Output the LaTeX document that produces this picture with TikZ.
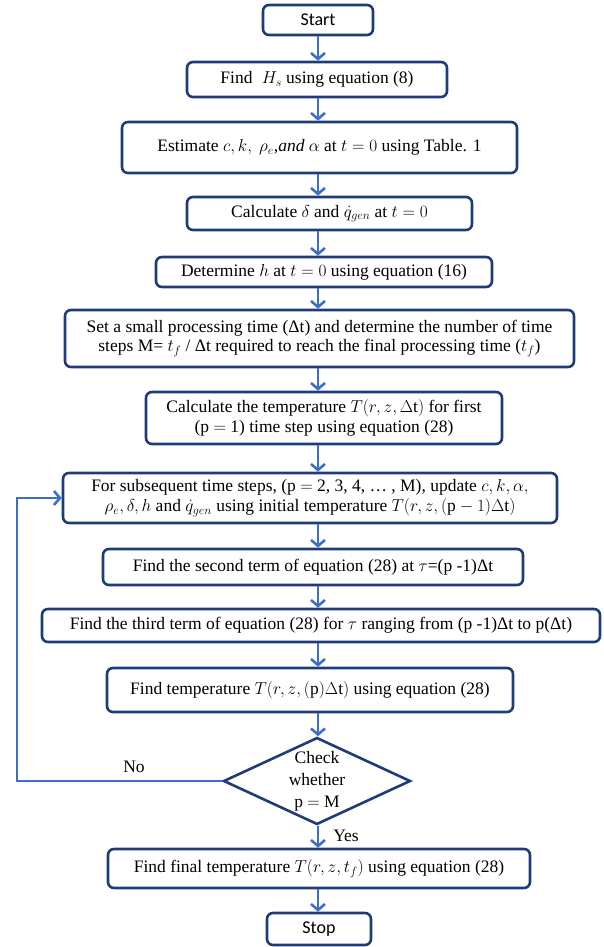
\documentclass[tikz,border=0pt]{standalone}
\usepackage{fontspec}
\setmainfont{Liberation Serif}
\newfontfamily\startfont{Carlito}
\usetikzlibrary{arrows.meta,shapes.geometric}
\definecolor{boxline}{HTML}{1F3B7A}
\definecolor{arrline}{HTML}{3E6FC8}
\newcommand\dlt{Δ}
\begin{document}
\begin{tikzpicture}[x=1pt,y=-1pt,
  box/.style={draw=boxline, line width=2.6pt, rounded corners=6pt, inner sep=0pt, align=center,
     font=\fontsize{17.5}{19.5}\selectfont, fill=white},
  term/.style={box, font=\startfont\fontsize{18}{20}\selectfont},
  flow/.style={draw=arrline, line width=2.8pt, -{Straight Barb[length=6pt,width=14pt,line width=2.6pt]}},
  lbl/.style={inner sep=0pt, font=\fontsize{17.5}{19.5}\selectfont}
]
\useasboundingbox (0,0) rectangle (604,947);
\coordinate (ax) at (318,0);

\node[term, minimum width=110pt, minimum height=30pt] (start) at (318,20) {Start};
\node[box, minimum width=260pt, minimum height=35pt] (hs) at (317,79.5) {Find \;$H_s$ using equation (8)};
\node[box, minimum width=395pt, minimum height=51pt] (est) at (319.5,147.5) {Estimate $c,k,\ \rho_e$,\textit{and} $\alpha$ at $t=0$ using Table. 1};
\node[box, minimum width=285pt, minimum height=33pt] (calcd) at (329.5,213.5) {Calculate $\delta$ and $\dot q_{gen}$ at $t=0$};
\node[box, minimum width=336pt, minimum height=30pt] (deth) at (324,272) {Determine $h$ at $t=0$ using equation (16)};
\node[box, minimum width=509pt, minimum height=57pt] (setp) at (319.5,338.5) {Set a small processing time (\dlt t) and determine the number of time\\ steps M= $t_f$ / \dlt t required to reach the final processing time ($t_f$)};
\node[box, minimum width=356pt, minimum height=52pt] (calct) at (324,418) {Calculate the temperature $T(r,z,\Delta\mathrm{t})$ for first\\ (p $=$ 1) time step using equation (28)};
\node[box, minimum width=494pt, minimum height=50pt] (forsub) at (310,498) {For subsequent time steps, (p $=$ 2, 3, 4, \dots\ , M), update $c,k,\alpha,$\\[1pt] $\rho_e,\delta,h$ and $\dot q_{gen}$ using initial temperature $T(r,z,(\mathrm{p}-1)\Delta\mathrm{t})$};
\node[box, minimum width=420pt, minimum height=36pt] (second) at (313,567) {Find the second term of equation (28) at $\tau$=(p -1)\dlt t};
\node[box, minimum width=558pt, minimum height=33pt] (third) at (321,625.5) {Find the third term of equation (28) for $\tau$ ranging from (p -1)\dlt t to p(\dlt t)};
\node[box, minimum width=406pt, minimum height=44pt] (findt) at (310,690) {Find temperature $T(r,z,(\mathrm{p})\Delta\mathrm{t})$ using equation (28)};
\node[diamond, draw=boxline, line width=2.6pt, minimum width=187pt, minimum height=87pt, inner sep=0pt] (chk) at (317,781) {};
\node[lbl, align=center, font=\fontsize{17.5}{22}\selectfont] (chktext) at (317,781) {Check\\whether\\p $=$ M};
\node[box, minimum width=422pt, minimum height=39pt] (final) at (319,868.5) {Find final temperature $T\big(r,z,t_f\big)$ using equation (28)};
\node[term, minimum width=104pt, minimum height=32pt] (stop) at (319,929) {Stop};

\coordinate (fbx) at (17,781);
\node[lbl] (no) at (134,767) {No};
\node[lbl] (yes) at (346,836) {Yes};

\draw[flow] (start.south -| ax) -- (hs.north -| ax);
\draw[flow] (hs.south -| ax) -- (est.north -| ax);
\draw[flow] (est.south -| ax) -- (calcd.north -| ax);
\draw[flow] (calcd.south -| ax) -- (deth.north -| ax);
\draw[flow] (deth.south -| ax) -- (setp.north -| ax);
\draw[flow] (setp.south -| ax) -- (calct.north -| ax);
\draw[flow] (calct.south -| ax) -- (forsub.north -| ax);
\draw[flow] (forsub.south -| ax) -- (second.north -| ax);
\draw[flow] (second.south -| ax) -- (third.north -| ax);
\draw[flow] (third.south -| ax) -- (findt.north -| ax);
\draw[flow] (findt.south -| ax) -- (chk.north -| ax);
\draw[flow] (chk.south -| ax) -- (final.north -| ax);
\draw[flow] (final.south -| ax) -- (stop.north -| ax);
\draw[flow] (chk.west) -- (fbx) |- (forsub.west);
\end{tikzpicture}
\end{document}
